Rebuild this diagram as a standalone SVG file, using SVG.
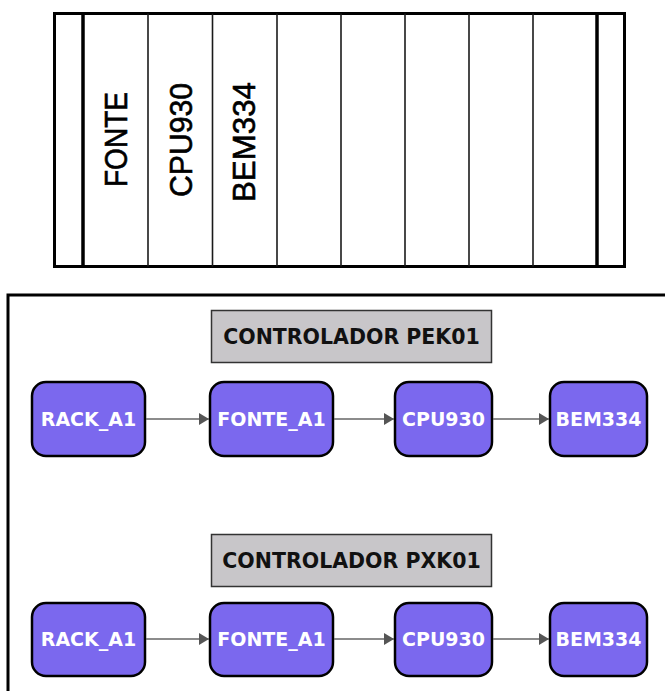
<svg xmlns="http://www.w3.org/2000/svg" width="665" height="691" viewBox="0 0 665 691">
  <style>
    .rack { fill: #ffffff; stroke: #000000; stroke-width: 3; }
    .wall { stroke: #000000; stroke-width: 3.5; }
    .slot { stroke: #1a1a1a; stroke-width: 1.6; }
    .slotlabel { font-family: "Liberation Sans", Arial, sans-serif; font-size: 31px; fill: #000000; stroke: #000000; stroke-width: 0.6; text-anchor: middle; }
    .frame { fill: none; stroke: #000000; stroke-width: 3; }
    .title rect { fill: #c8c6c9; stroke: #333333; stroke-width: 1.5; }
    .title text { font-family: "DejaVu Sans", Verdana, sans-serif; font-weight: bold; font-size: 20.5px; fill: #111111; text-anchor: middle; }
    .node rect { fill: #7b68ee; stroke: #000000; stroke-width: 2.5; }
    .node text { font-family: "DejaVu Sans", Verdana, sans-serif; font-weight: bold; font-size: 19px; fill: #ffffff; text-anchor: middle; }
    .edge { stroke: #666666; stroke-width: 1.6; fill: none; marker-end: url(#arrow); }
  </style>
  <defs>
    <marker id="arrow" viewBox="0 0 10 12" refX="10" refY="6" markerWidth="11" markerHeight="12" markerUnits="userSpaceOnUse" orient="auto">
      <path d="M0,0 L10,6 L0,12 Z" fill="#555555"/>
    </marker>
  </defs>

  <!-- Rack front view -->
  <g id="rack">
    <rect class="rack" x="54.5" y="13.5" width="570" height="253"/>
    <line class="wall" x1="83" y1="13.5" x2="83" y2="266.5"/>
    <line class="wall" x1="597" y1="13.5" x2="597" y2="266.5"/>
    <line class="slot" x1="148" y1="13.5" x2="148" y2="266.5"/>
    <line class="slot" x1="212.5" y1="13.5" x2="212.5" y2="266.5"/>
    <line class="slot" x1="277" y1="13.5" x2="277" y2="266.5"/>
    <line class="slot" x1="341" y1="13.5" x2="341" y2="266.5"/>
    <line class="slot" x1="405" y1="13.5" x2="405" y2="266.5"/>
    <line class="slot" x1="469" y1="13.5" x2="469" y2="266.5"/>
    <line class="slot" x1="533" y1="13.5" x2="533" y2="266.5"/>
    <text class="slotlabel" transform="translate(127,139.5) rotate(-90)" textLength="95" lengthAdjust="spacingAndGlyphs">FONTE</text>
    <text class="slotlabel" transform="translate(192,140) rotate(-90)" textLength="114" lengthAdjust="spacingAndGlyphs">CPU930</text>
    <text class="slotlabel" transform="translate(255,142) rotate(-90)" textLength="120" lengthAdjust="spacingAndGlyphs">BEM334</text>
  </g>

  <!-- Frame around the controller chains -->
  <path class="frame" d="M8,691 L8,295 L665,295"/>

  <!-- Controller PEK01 -->
  <g id="title-pek01" class="title">
    <rect x="211.5" y="310.5" width="280" height="52"/>
    <text x="351.5" y="344">CONTROLADOR PEK01</text>
  </g>
  <g id="pek01-rack" class="node">
    <rect x="32" y="382" width="113" height="74" rx="14"/>
    <text x="88.5" y="425.5">RACK_A1</text>
  </g>
  <g id="pek01-fonte" class="node">
    <rect x="210" y="382" width="123" height="74" rx="14"/>
    <text x="271.5" y="425.5">FONTE_A1</text>
  </g>
  <g id="pek01-cpu" class="node">
    <rect x="395" y="382" width="97" height="74" rx="14"/>
    <text x="443.5" y="425.5">CPU930</text>
  </g>
  <g id="pek01-bem" class="node">
    <rect x="550" y="382" width="97" height="74" rx="14"/>
    <text x="598.5" y="425.5">BEM334</text>
  </g>

  <!-- Controller PXK01 -->
  <g id="title-pxk01" class="title">
    <rect x="211.5" y="534.5" width="280" height="52"/>
    <text x="351.5" y="568">CONTROLADOR PXK01</text>
  </g>
  <g id="pxk01-rack" class="node">
    <rect x="32" y="603" width="113" height="73" rx="14"/>
    <text x="88.5" y="646">RACK_A1</text>
  </g>
  <g id="pxk01-fonte" class="node">
    <rect x="210" y="603" width="123" height="73" rx="14"/>
    <text x="271.5" y="646">FONTE_A1</text>
  </g>
  <g id="pxk01-cpu" class="node">
    <rect x="395" y="603" width="97" height="73" rx="14"/>
    <text x="443.5" y="646">CPU930</text>
  </g>
  <g id="pxk01-bem" class="node">
    <rect x="550" y="603" width="97" height="73" rx="14"/>
    <text x="598.5" y="646">BEM334</text>
  </g>

  <!-- Connectors -->
  <g id="connectors">
    <line class="edge" x1="146" y1="419" x2="209" y2="419"/>
    <line class="edge" x1="334" y1="419" x2="394" y2="419"/>
    <line class="edge" x1="493" y1="419" x2="549" y2="419"/>
    <line class="edge" x1="146" y1="639" x2="209" y2="639"/>
    <line class="edge" x1="334" y1="639" x2="394" y2="639"/>
    <line class="edge" x1="493" y1="639" x2="549" y2="639"/>
  </g>
</svg>
